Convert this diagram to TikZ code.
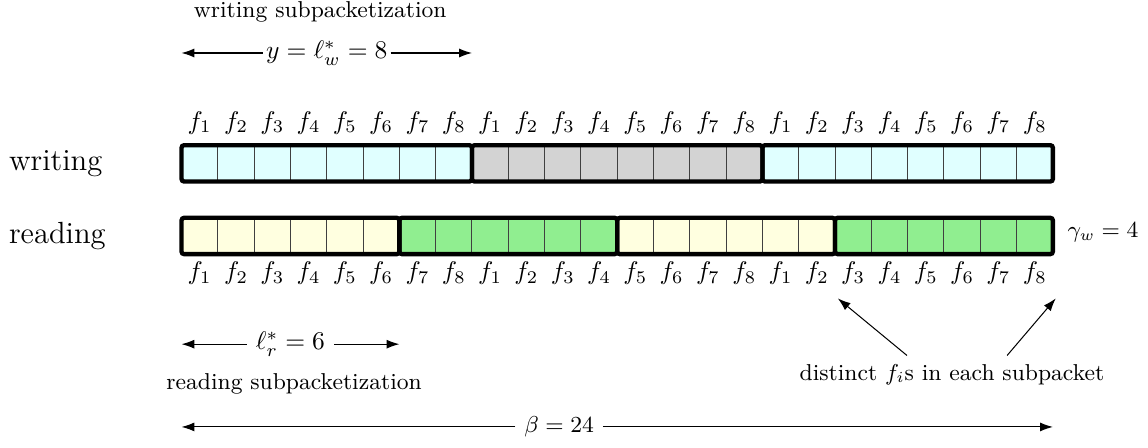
\documentclass[tikz,border=0pt]{standalone}
\usetikzlibrary{arrows.meta,positioning}
\definecolor{wcyan}{RGB}{224,255,255}
\definecolor{wgray}{RGB}{211,211,211}
\definecolor{ryellow}{RGB}{255,255,224}
\definecolor{rgreen}{RGB}{144,238,144}

\begin{document}
\begin{tikzpicture}[
    cell/.style={draw=black!75, thin, minimum size=5mm, inner sep=0pt, outer sep=0pt},
    group/.style={draw=black, line width=1.7pt, rounded corners=1pt},
    rowname/.style={font=\large, anchor=west},
    >={Latex[length=5pt,width=3.5pt]}
]
\useasboundingbox (0,0) rectangle (15.81,-6.16);

% writing row: three subpackets of 8
\foreach \g/\c in {0/wcyan,1/wgray,2/wcyan}
  \foreach \k in {1,...,8} {
    \pgfmathtruncatemacro{\i}{8*\g+\k}
    \node[cell, fill=\c] (w\i) at (2.25+0.5*\i,-2.25) {};
    \node (fw\i) at ([yshift=5.6mm]w\i) {$f_{\k}$};
  }
% reading row: four subpackets of 6
\foreach \g/\c in {0/ryellow,1/rgreen,2/ryellow,3/rgreen}
  \foreach \k in {1,...,6} {
    \pgfmathtruncatemacro{\i}{6*\g+\k}
    \pgfmathtruncatemacro{\f}{mod(\i-1,8)+1}
    \node[cell, fill=\c] (r\i) at (2.25+0.5*\i,-3.25) {};
    \node (fr\i) at ([yshift=-5.1mm]r\i) {$f_{\f}$};
  }
\foreach \a/\b in {1/8,9/16,17/24}
  \draw[group] (w\a.north west) rectangle (w\b.south east);
\foreach \a/\b in {1/6,7/12,13/18,19/24}
  \draw[group] (r\a.north west) rectangle (r\b.south east);

\node[rowname] (writing) at (0,-2.25) {writing};
\node[rowname] (reading) at (0,-3.25) {reading};
\node[font=\small] (gamma) at (15.19,-3.2) {$\gamma_w = 4$};

% subpacketization arrows
\node[font=\small] (wsub) at (4.41,-0.17) {writing subpacketization};
\node[inner sep=1pt] (ylab) at (4.5,-0.73) {$y = \ell_w^* = 8$};
\draw[->] (ylab) -- (w1.west |- ylab);
\draw[->] (ylab) -- (w8.east |- ylab);

\node (llab) at (4.0,-4.74) {$\ell_r^* = 6$};
\draw[->] (llab) -- (r1.west |- llab);
\draw[->] (llab) -- (r6.east |- llab);
\node[font=\small] (rsub) at (4.05,-5.29) {reading subpacketization};

\node[font=\small] (beta) at (7.7,-5.88) {$\beta = 24$};
\draw[->] (beta) -- (r1.west |- beta);
\draw[->] (beta) -- (r24.east |- beta);

\node[font=\small] (distinct) at (13.11,-5.16) {distinct $f_i$s in each subpacket};
\draw[->] ([xshift=-6.2mm]distinct.north) -- ([yshift=-0.7mm]fr18.south east);
\draw[->] ([xshift=7.6mm]distinct.north) -- ([yshift=-0.7mm]fr24.south east);
\end{tikzpicture}
\end{document}
